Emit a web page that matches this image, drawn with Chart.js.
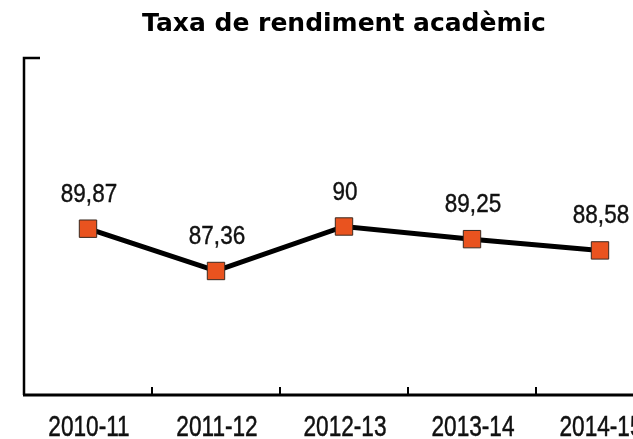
<!DOCTYPE html>
<html>
<head>
<meta charset="utf-8">
<script src="https://cdn.jsdelivr.net/npm/chart.js@4/dist/chart.umd.min.js"></script>
<style>
  html, body { margin: 0; padding: 0; background: #fff; overflow: hidden; }
  #wrap { width: 688px; height: 439px; }
</style>
</head>
<body>
<div id="wrap"><canvas id="chart" width="688" height="439"></canvas></div>
<script>
  const TITLE = 'Taxa de rendiment acadèmic';
  const COURSES = ['2010-11', '2011-12', '2012-13', '2013-14', '2014-15'];
  const RATES = [89.87, 87.36, 90, 89.25, 88.58];
  const Y_MIN = 80;
  const Y_MAX = 100;

  const SANS = "'Liberation Sans', Arial, sans-serif";

  const fmt = v => String(v).replace('.', ',');

  // condensed text: the original uses a narrow face we don't have
  function narrowText(ctx, text, x, y, squeeze) {
    ctx.save();
    ctx.translate(x, y);
    ctx.scale(squeeze, 1);
    ctx.fillText(text, 0, 0);
    ctx.strokeText(text, 0, 0);
    ctx.restore();
  }

  // axis lines with ticks pointing inwards, like the original
  const axesPlugin = {
    id: 'axes',
    beforeDatasetsDraw(chart) {
      const { ctx, chartArea: a, scales: { x, y } } = chart;
      const top = y.getPixelForValue(Y_MAX);
      ctx.save();
      ctx.strokeStyle = '#000';
      ctx.lineWidth = 2.5;
      ctx.beginPath();
      ctx.moveTo(a.left + 16, top);
      ctx.lineTo(a.left, top);
      ctx.lineTo(a.left, a.bottom);
      ctx.stroke();
      ctx.lineWidth = 3;
      ctx.beginPath();
      ctx.moveTo(a.left - 1, a.bottom);
      ctx.lineTo(a.right, a.bottom);
      ctx.stroke();
      ctx.lineWidth = 2;
      for (let i = 1; i < COURSES.length; i++) {
        const bx = Math.round((x.getPixelForValue(i - 1) + x.getPixelForValue(i)) / 2);
        ctx.beginPath();
        ctx.moveTo(bx, a.bottom);
        ctx.lineTo(bx, a.bottom - 8);
        ctx.stroke();
      }
      // category labels, placed by the x scale
      ctx.fillStyle = '#111';
      ctx.strokeStyle = '#111';
      ctx.lineWidth = 0.5;
      ctx.font = '29px ' + SANS;
      ctx.textAlign = 'center';
      ctx.textBaseline = 'alphabetic';
      COURSES.forEach((c, i) => narrowText(ctx, c, x.getPixelForValue(i) + 1, a.bottom + 41, 0.78));
      ctx.restore();
    }
  };

  const valueLabels = {
    id: 'valueLabels',
    afterDatasetsDraw(chart) {
      const { ctx } = chart;
      const meta = chart.getDatasetMeta(0);
      ctx.save();
      ctx.font = '25px ' + SANS;
      ctx.fillStyle = '#111';
      ctx.strokeStyle = '#111';
      ctx.lineWidth = 0.4;
      ctx.textAlign = 'center';
      ctx.textBaseline = 'alphabetic';
      meta.data.forEach((pt, i) => narrowText(ctx, fmt(RATES[i]), pt.x + 1, pt.y - 27, 0.9));
      ctx.restore();
    }
  };

  new Chart(document.getElementById('chart'), {
    type: 'line',
    data: {
      labels: COURSES,
      datasets: [{
        data: RATES,
        borderColor: '#000',
        borderWidth: 5,
        tension: 0,
        pointStyle: 'rect',
        pointRadius: 12.3,
        pointBackgroundColor: '#e9531f',
        pointBorderColor: '#3a2a20',
        pointBorderWidth: 1
      }]
    },
    options: {
      responsive: false,
      animation: false,
      layout: { padding: { left: 24, right: 24, top: 0, bottom: 0 } },
      plugins: {
        legend: { display: false },
        tooltip: { enabled: false },
        title: {
          display: true,
          text: TITLE,
          color: '#000',
          font: { family: "'DejaVu Sans', sans-serif", size: 25, weight: 'bold' },
          padding: { top: 9, bottom: 19 }
        }
      },
      scales: {
        x: {
          offset: true,
          border: { display: false },
          grid: { display: true, drawOnChartArea: false, drawTicks: true, tickLength: 44, color: 'rgba(0,0,0,0)' },
          ticks: { display: false }
        },
        y: {
          display: false,
          min: Y_MIN,
          max: Y_MAX
        }
      }
    },
    plugins: [axesPlugin, valueLabels]
  });
</script>
</body>
</html>
